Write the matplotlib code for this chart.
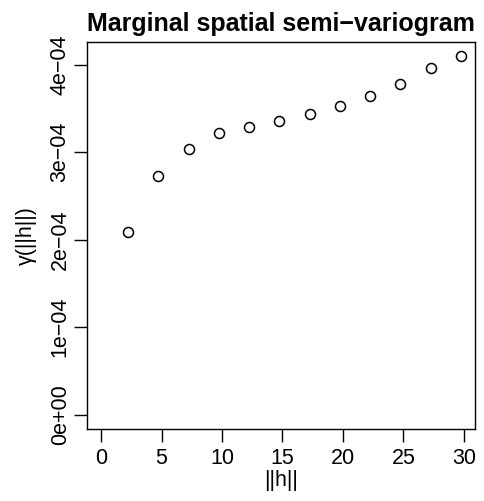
import matplotlib
matplotlib.use("Agg")
import matplotlib.pyplot as plt
import numpy as np

plt.rcParams["font.family"] = ["Liberation Sans", "DejaVu Sans"]

# binned distances and semi-variogram estimates
lag = [2.25, 4.75, 7.25, 9.75, 12.25, 14.75, 17.25, 19.75, 22.25, 24.75, 27.25, 29.75]
gamma = [2.09e-4, 2.73e-4, 3.035e-4, 3.215e-4, 3.29e-4, 3.355e-4,
         3.44e-4, 3.525e-4, 3.645e-4, 3.785e-4, 3.96e-4, 4.095e-4]

xticks = [0, 5, 10, 15, 20, 25, 30]
yticks = [0, 1e-4, 2e-4, 3e-4, 4e-4]
ytick_labels = ["0e+00", "1e\u221204", "2e\u221204", "3e\u221204", "4e\u221204"]

fig = plt.figure(figsize=(4.84, 5.01), dpi=100)
ax = fig.add_axes([0.179, 0.144, 0.803, 0.772])

ax.plot(lag, gamma, "o", mfc="none", mec="black", ms=7.2, mew=1.1)

# R-style 4% padding around [0, max]
xmax = max(lag)
ymax = max(gamma)
ax.set_xlim(-0.04 * xmax, xmax * 1.04)
ax.set_ylim(-0.04 * ymax, ymax * 1.04)

ax.set_xticks(xticks)
ax.set_xticklabels([str(t) for t in xticks])
ax.set_yticks(yticks)
ax.set_yticklabels(ytick_labels, rotation=90, va="center")

ax.tick_params(direction="out", length=9.5, width=1, labelsize=15.5)
ax.tick_params(axis="x", pad=4)
ax.tick_params(axis="y", pad=2)
for s in ax.spines.values():
    s.set_linewidth(1)

ax.set_xlabel("||h||", fontsize=15.5, labelpad=1)
ax.set_ylabel("\u03b3(||h||)", fontsize=15.5, labelpad=9)
ax.set_title("Marginal spatial semi\u2212variogram", fontsize=18, fontweight="bold", pad=8)

fig.savefig("out.png", dpi=100)
